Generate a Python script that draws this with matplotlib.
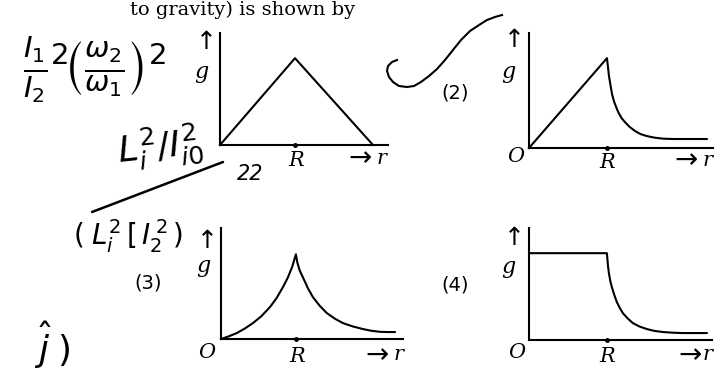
import matplotlib
matplotlib.use('Agg')
import matplotlib.pyplot as plt

# ───────────── curve data (r in units of R, g relative to peak) ─────────────
P1_R = [0.0, 1.0, 2.04]
P1_G = [0.0, 1.0, 0.0]

P2_R = [0.0, 1.0, 1.013, 1.026, 1.045, 1.065, 1.09, 1.12, 1.15, 1.19, 1.23,
        1.29, 1.36, 1.43, 1.51, 1.61, 1.72, 1.85, 1.97, 2.13, 2.28]
P2_G = [0.0, 1.0, 0.90, 0.80, 0.70, 0.60, 0.52, 0.45, 0.39, 0.33, 0.289,
        0.235, 0.189, 0.155, 0.133, 0.115, 0.104, 0.10, 0.10, 0.10, 0.10]

P3_R = [0.0, 0.1, 0.213, 0.32, 0.427, 0.54, 0.653, 0.74, 0.827, 0.89, 0.95, 1.0,
        1.02, 1.05, 1.093, 1.16, 1.227, 1.32, 1.413, 1.52, 1.627, 1.76, 1.893,
        2.0, 2.12, 2.22, 2.32]
P3_G = [0.0, 0.03, 0.071, 0.125, 0.188, 0.27, 0.376, 0.48, 0.612, 0.72, 0.85, 1.0,
        0.90, 0.81, 0.729, 0.60, 0.494, 0.39, 0.306, 0.24, 0.188, 0.148, 0.118,
        0.098, 0.085, 0.082, 0.082]

P4_R = [0.0, 1.0, 1.008, 1.016, 1.026, 1.044, 1.064, 1.095, 1.128, 1.165, 1.205,
        1.265, 1.333, 1.42, 1.513, 1.61, 1.718, 1.85, 1.974, 2.13, 2.282]
P4_G = [1.0, 1.0, 0.92, 0.84, 0.77, 0.68, 0.609, 0.52, 0.437, 0.37, 0.31,
        0.25, 0.195, 0.155, 0.126, 0.105, 0.092, 0.084, 0.08, 0.08, 0.08]

# handwritten stroke next to "(2)" (pixel coords)
SCRIBBLE_X = [397, 392, 388, 387, 389, 393, 399, 407, 414, 421, 429, 437, 445,
              453, 461, 470, 479, 487, 495, 502]
SCRIBBLE_Y = [60, 62, 66, 71, 77, 82, 86, 87, 86, 82, 76, 69, 60,
              50, 40, 31, 25, 20, 17, 15]

W, H = 720, 371
SERIF = 'DejaVu Serif'


def make_panel(fig, x0, x1, y_top, y_axis, rmax, gmax, r, g):
    ax = fig.add_axes([x0 / W, 1 - y_axis / H, (x1 - x0) / W, (y_axis - y_top) / H])
    ax.patch.set_alpha(0)
    ax.set_xlim(0, rmax)
    ax.set_ylim(0, gmax)
    for s in ('top', 'right'):
        ax.spines[s].set_visible(False)
    for s in ('left', 'bottom'):
        ax.spines[s].set_linewidth(1.5)
    ax.set_xticks([])
    ax.set_yticks([])
    ax.plot(r, g, color='black', lw=1.5, clip_on=False, solid_joinstyle='round')
    ax.plot([1.0], [0.0], 'o', color='black', ms=2.5, clip_on=False)
    return ax


fig = plt.figure(figsize=(7.2, 3.71), dpi=100)
fig.patch.set_facecolor('white')

bg = fig.add_axes([0, 0, 1, 1])
bg.set_xlim(0, W)
bg.set_ylim(H, 0)
bg.axis('off')

make_panel(fig, 220, 388, 33, 145, 2.24, 1.29, P1_R, P1_G)
make_panel(fig, 529, 713, 33, 148, 2.36, 1.28, P2_R, P2_G)
make_panel(fig, 221, 403, 228, 339, 2.43, 1.31, P3_R, P3_G)
make_panel(fig, 529, 712, 228, 340, 2.35, 1.29, P4_R, P4_G)

# axis labels for each panel
labels = [
    # (up-arrow x, y), (g x, y), (O x, y) or None, (R x, y), (-> x, y), (r x, y)
    ((206, 42), (201, 72), None, (296, 160), (360, 158), (382, 158)),
    ((514, 40), (508, 72), (516, 157), (607, 162), (686, 160), (708, 160)),
    ((207, 241), (203, 266), (207, 352), (297, 356), (377, 355), (399, 355)),
    ((514, 238), (508, 267), (517, 352), (607, 356), (690, 355), (708, 355)),
]
for up, gpos, opos, rpos, arr, rr in labels:
    bg.text(*up, '↑', fontsize=18, ha='center', va='center', family='DejaVu Sans')
    bg.text(*gpos, 'g', fontsize=16, ha='center', va='center', family=SERIF, style='italic')
    if opos is not None:
        bg.text(*opos, 'O', fontsize=15, ha='center', va='center', family=SERIF, style='italic')
    bg.text(*rpos, 'R', fontsize=15, ha='center', va='center', family=SERIF, style='italic')
    bg.text(*arr, '→', fontsize=20, ha='center', va='center', family='DejaVu Sans')
    bg.text(*rr, 'r', fontsize=15, ha='center', va='center', family=SERIF, style='italic')

for txt, pos in [('(2)', (455, 93)), ('(3)', (148, 283)), ('(4)', (455, 285))]:
    bg.text(*pos, txt, fontsize=14, ha='center', va='center', family='DejaVu Sans')

# printed line at the top (cut off in the scan)
bg.text(130, 15, 'to gravity) is shown by', fontsize=14, ha='left', va='baseline',
        family=SERIF)

# handwritten notes
bg.text(95, 70, r'$\frac{I_1}{I_2}^{2}\!\left(\frac{\omega_2}{\omega_1}\right)^{2}$',
        fontsize=30, ha='center', va='center')
bg.text(160, 147, r'$L_i^2/I_{i0}^2$', fontsize=26, ha='center', va='center', rotation=6)
bg.plot([92, 223], [212, 162], color='black', lw=1.8, solid_capstyle='round')
bg.text(250, 174, '22', fontsize=15, ha='center', va='center', style='italic')
bg.text(128, 236, r'$(\;L_i^2\,[\,I_2^{\,2}\,)$', fontsize=20, ha='center', va='center')
bg.text(52, 345, r'$\hat{j}\;)$', fontsize=26, ha='center', va='center')
bg.plot(SCRIBBLE_X, SCRIBBLE_Y, color='black', lw=1.5, solid_joinstyle='round')

fig.savefig('out.png', dpi=100)
plt.close(fig)
